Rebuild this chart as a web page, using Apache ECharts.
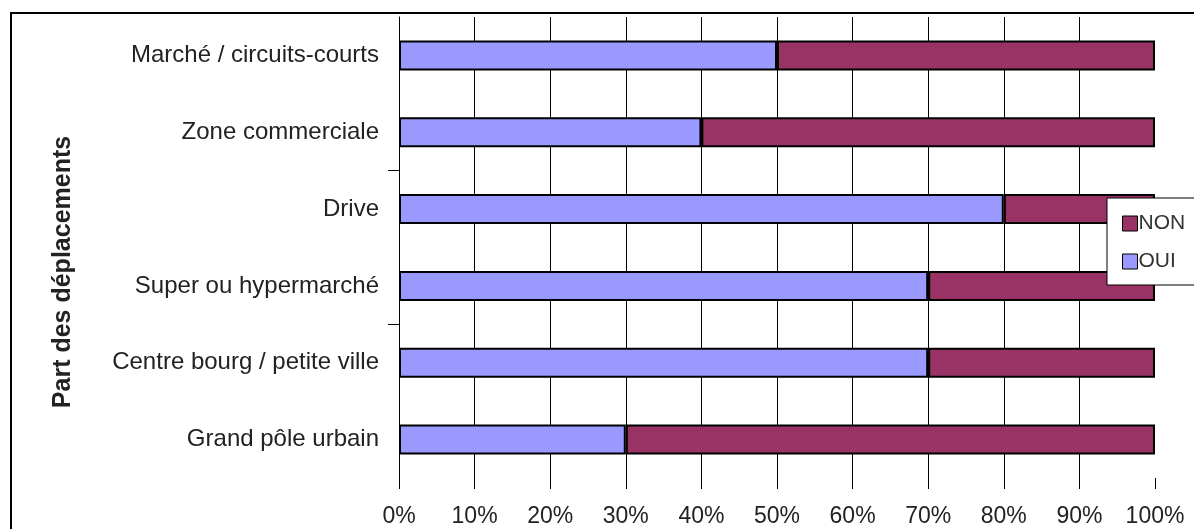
<!DOCTYPE html>
<html>
<head>
<meta charset="utf-8">
<script src="https://cdn.jsdelivr.net/npm/echarts@6/dist/echarts.min.js"></script>
<style>
html,body{margin:0;padding:0;background:#fff;}
#main{width:1194px;height:529px;}
</style>
</head>
<body>
<div id="main"></div>
<script>
// Categories listed bottom to top
const categories = ['Grand pôle urbain', 'Centre bourg / petite ville', 'Super ou hypermarché', 'Drive', 'Zone commerciale', 'Marché / circuits-courts'];
const ouiValues = [30, 70, 70, 80, 40, 50];
const nonValues = [70, 30, 30, 20, 60, 50];
const catTickPositions = [2, 4];
const axisTitle = 'Part des déplacements';

const chart = echarts.init(document.getElementById('main'));
const font = '"Liberation Sans", Arial, sans-serif';
chart.setOption({
  backgroundColor: '#fff',
  animation: false,
  grid: { left: 399, right: 39, top: 17, bottom: 51, containLabel: false },
  xAxis: {
    type: 'value', min: 0, max: 100, interval: 10,
    axisLine: { show: false },
    axisTick: { show: true, length: 11, lineStyle: { color: '#000', width: 1 } },
    splitLine: { show: true, showMaxLine: false, lineStyle: { color: '#000', width: 1 } },
    axisLabel: { formatter: '{value}%', fontFamily: font, fontSize: 23, color: '#222', margin: 27 }
  },
  yAxis: [{
    type: 'category', data: categories,
    axisLine: { show: true, lineStyle: { color: '#000', width: 1 } },
    axisTick: { show: false },
    axisLabel: { fontFamily: font, fontSize: 24, color: '#222', margin: 20 },
    splitLine: { show: false }
  }, {
    type: 'value', min: 0, max: categories.length, position: 'left',
    axisLine: { show: false },
    axisTick: { show: true, length: 11, customValues: catTickPositions, lineStyle: { color: '#000', width: 1 } },
    axisLabel: { show: false },
    splitLine: { show: false }
  }],
  legend: {
    data: ['NON', 'OUI'],
    orient: 'vertical',
    left: 1107, top: 198,
    padding: [15, 20, 13, 15],
    itemGap: 17,
    itemWidth: 15, itemHeight: 15,
    backgroundColor: '#fff',
    borderColor: '#000', borderWidth: 1, borderRadius: 0,
    icon: 'rect',
    itemStyle: { borderColor: '#000', borderWidth: 1 },
    textStyle: { fontFamily: font, fontSize: 21, color: '#333', lineHeight: 20, padding: [0, 0, 0, -4] }
  },
  graphic: [
    { type: 'rect', shape: { x: 11, y: 13, width: 1400, height: 700 }, style: { fill: 'none', stroke: '#000', lineWidth: 2 }, z: 100, silent: true },
    { type: 'text', x: 63, y: 272, rotation: Math.PI / 2,
      style: { text: axisTitle, font: 'bold 25px ' + font, fill: '#222', textAlign: 'center', textVerticalAlign: 'middle' } }
  ],
  series: [
    { name: 'OUI', type: 'bar', stack: 'tot', data: ouiValues, barWidth: 30, yAxisIndex: 0,
      itemStyle: { color: '#9999FF', borderColor: '#000', borderWidth: 2 } },
    { name: 'NON', type: 'bar', stack: 'tot', data: nonValues, barWidth: 30, yAxisIndex: 0,
      itemStyle: { color: '#993366', borderColor: '#000', borderWidth: 2 } }
  ]
});
</script>
</body>
</html>
